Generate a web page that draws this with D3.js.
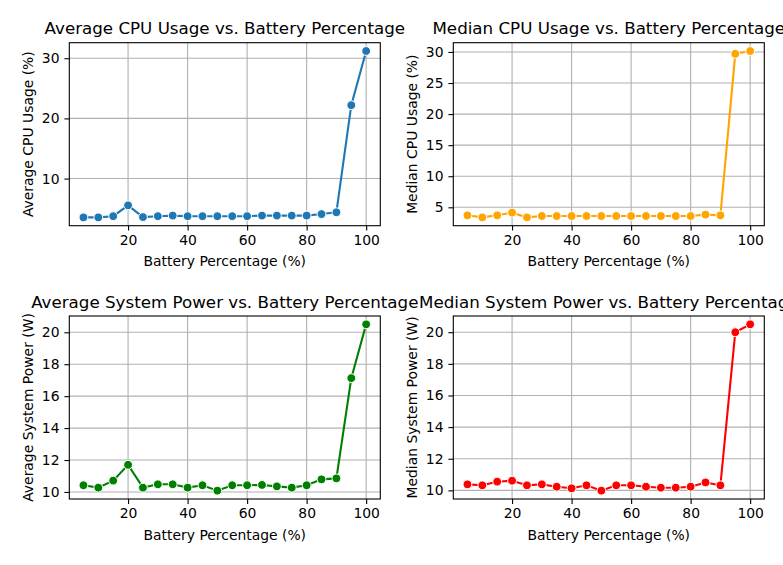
<!DOCTYPE html>
<html>
<head>
<meta charset="utf-8">
<script src="https://cdn.jsdelivr.net/npm/d3@7"></script>
<style>
  html, body { margin: 0; padding: 0; background: #fff; overflow: hidden; }
  text { font-family: "DejaVu Sans", sans-serif; fill: #000; }
</style>
</head>
<body>
<div id="chart"></div>
<script>
// battery levels on the x axis
var battery = [5, 10, 15, 20, 25, 30, 35, 40, 45, 50, 55, 60, 65, 70, 75, 80, 85, 90, 95, 100];

var avgCpu = [3.55, 3.55, 3.75, 5.55, 3.6, 3.75, 3.85, 3.75, 3.75, 3.75, 3.75, 3.75, 3.85, 3.85, 3.85, 3.85, 4.1, 4.4, 22.2, 31.2];
var medCpu = [3.71, 3.38, 3.71, 4.14, 3.38, 3.6, 3.6, 3.6, 3.6, 3.6, 3.6, 3.6, 3.6, 3.6, 3.6, 3.6, 3.82, 3.71, 29.7, 30.15];
var avgPower = [10.42, 10.27, 10.71, 11.7, 10.27, 10.48, 10.48, 10.27, 10.42, 10.08, 10.42, 10.42, 10.44, 10.35, 10.27, 10.42, 10.79, 10.85, 17.13, 20.5];
var medPower = [10.38, 10.32, 10.55, 10.61, 10.32, 10.38, 10.23, 10.13, 10.32, 9.98, 10.32, 10.32, 10.23, 10.17, 10.17, 10.23, 10.5, 10.32, 20.0, 20.5];

var xTicks = [20, 40, 60, 80, 100];
var cpuAvgTicks = [10, 20, 30];
var cpuMedTicks = [5, 10, 15, 20, 25, 30];
var powerTicks = [10, 12, 14, 16, 18, 20];

var panels = [
    { title: "Average CPU Usage vs. Battery Percentage", ylabel: "Average CPU Usage (%)", values: avgCpu, ticks: cpuAvgTicks, color: "#1f77b4", x: 69.3, y: 42.7 },
    { title: "Median CPU Usage vs. Battery Percentage", ylabel: "Median CPU Usage (%)", values: medCpu, ticks: cpuMedTicks, color: "orange", x: 453.3, y: 42.7 },
    { title: "Average System Power vs. Battery Percentage", ylabel: "Average System Power (W)", values: avgPower, ticks: powerTicks, color: "green", x: 69.3, y: 316 },
    { title: "Median System Power vs. Battery Percentage", ylabel: "Median System Power (W)", values: medPower, ticks: powerTicks, color: "red", x: 453.3, y: 316 }
];

var W = 783, H = 565;
var pw = 311, ph = 183;

var svg = d3.select("#chart").append("svg")
    .attr("width", W)
    .attr("height", H);

function padded(ext) {
    var m = (ext[1] - ext[0]) * 0.05;
    return [ext[0] - m, ext[1] + m];
}

panels.forEach(function(p) {
    var g = svg.append("g").attr("transform", "translate(" + p.x + "," + p.y + ")");

    var xScale = d3.scaleLinear().domain(padded(d3.extent(battery))).range([0, pw]);
    var yScale = d3.scaleLinear().domain(padded(d3.extent(p.values))).range([ph, 0]);

    // grid
    g.append("g").selectAll("line").data(xTicks).enter().append("line")
        .attr("x1", function(d) { return xScale(d); })
        .attr("x2", function(d) { return xScale(d); })
        .attr("y1", 0).attr("y2", ph)
        .attr("stroke", "#b0b0b0").attr("stroke-width", 1.1);
    g.append("g").selectAll("line").data(p.ticks).enter().append("line")
        .attr("y1", function(d) { return yScale(d); })
        .attr("y2", function(d) { return yScale(d); })
        .attr("x1", 0).attr("x2", pw)
        .attr("stroke", "#b0b0b0").attr("stroke-width", 1.1);

    // axes
    var xAxis = g.append("g").attr("transform", "translate(0," + ph + ")")
        .call(d3.axisBottom(xScale).tickValues(xTicks).tickSize(4.9).tickPadding(4.5).tickFormat(d3.format("d")));
    var yAxis = g.append("g")
        .call(d3.axisLeft(yScale).tickValues(p.ticks).tickSize(4.9).tickPadding(4.9).tickFormat(d3.format("d")));
    [xAxis, yAxis].forEach(function(a) {
        a.select(".domain").remove();
        a.selectAll("line").attr("stroke", "#000").attr("stroke-width", 1.1);
        a.selectAll("text").style("font-size", "13.9px").style("font-family", "DejaVu Sans");
    });

    var seq = battery.map(function(b, i) { return [b, p.values[i]]; });

    g.append("path")
        .datum(seq)
        .attr("fill", "none")
        .attr("stroke", p.color)
        .attr("stroke-width", 2.1)
        .attr("d", d3.line()
            .x(function(d) { return xScale(d[0]); })
            .y(function(d) { return yScale(d[1]); }));

    g.append("g").selectAll("circle").data(seq).enter().append("circle")
        .attr("cx", function(d) { return xScale(d[0]); })
        .attr("cy", function(d) { return yScale(d[1]); })
        .attr("r", 4.4)
        .attr("fill", p.color)
        .attr("stroke", "#fff")
        .attr("stroke-width", 1);

    // frame
    g.append("rect")
        .attr("width", pw).attr("height", ph)
        .attr("fill", "none").attr("stroke", "#000").attr("stroke-width", 1.1);

    g.append("text")
        .attr("x", pw / 2).attr("y", -8.3)
        .attr("text-anchor", "middle")
        .style("font-size", "16.7px")
        .text(p.title);

    g.append("text")
        .attr("x", pw / 2).attr("y", ph + 40.5)
        .attr("text-anchor", "middle")
        .style("font-size", "13.9px")
        .text("Battery Percentage (%)");

    g.append("text")
        .attr("transform", "translate(-36," + (ph / 2) + ") rotate(-90)")
        .attr("text-anchor", "middle")
        .style("font-size", "13.9px")
        .text(p.ylabel);
});
</script>
</body>
</html>
